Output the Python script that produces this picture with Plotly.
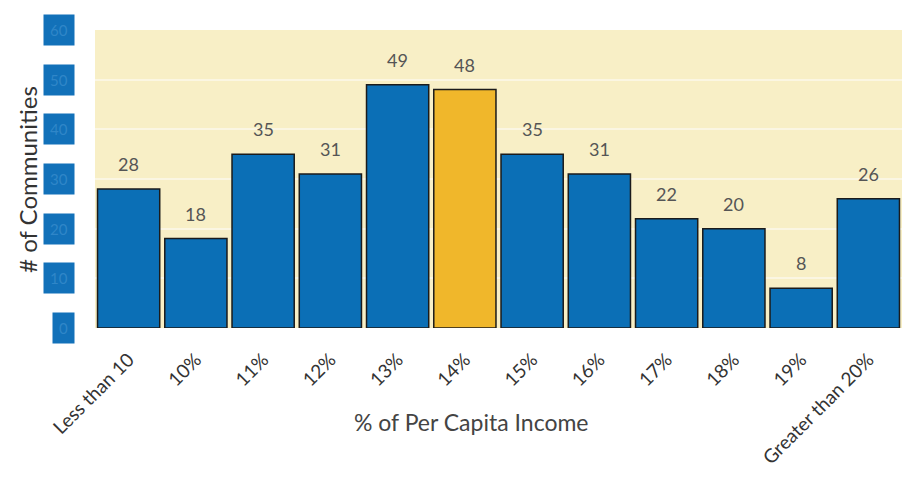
import plotly.graph_objects as go

categories = ["Less than 10", "10%", "11%", "12%", "13%", "14%", "15%", "16%", "17%", "18%", "19%", "Greater than 20%"]
values = [28, 18, 35, 31, 49, 48, 35, 31, 22, 20, 8, 26]
highlight = "14%"
y_ticks = [0, 10, 20, 30, 40, 50, 60]

BLUE = "#0b6fb6"
GOLD = "#f0b72b"
FONT = "Lato, sans-serif"
colors = [GOLD if c == highlight else BLUE for c in categories]

fig = go.Figure()
fig.add_trace(go.Bar(
    x=categories, y=values,
    marker=dict(color=colors, line=dict(color="#1b1b1b", width=1.5)),
    hoverinfo="skip",
))

annotations = []
for c, v in zip(categories, values):
    annotations.append(dict(
        x=c, y=v, xref="x", yref="y", text=str(v), showarrow=False,
        yanchor="bottom", yshift=12,
        font=dict(family=FONT, size=18, color="#555555"),
    ))
for t in y_ticks:
    annotations.append(dict(
        x=0, y=t, xref="paper", yref="y", text=str(t), showarrow=False,
        xanchor="right", xshift=-20,
        font=dict(family=FONT, size=15, color="#2f86c8"),
        bgcolor="#1271b9", borderpad=6,
    ))
annotations.append(dict(
    x=0.467, y=-0.315, xref="paper", yref="paper", text="% of Per Capita Income",
    showarrow=False, xanchor="center", yanchor="middle",
    font=dict(family=FONT, size=23, color="#444444"),
))
annotations.append(dict(
    x=-0.083, y=0.497, xref="paper", yref="paper", text="# of Communities",
    showarrow=False, xanchor="center", yanchor="middle", textangle=-90,
    font=dict(family=FONT, size=24, color="#333333"),
))

fig.update_layout(
    width=913, height=487,
    margin=dict(l=95, r=11, t=30, b=159),
    paper_bgcolor="white",
    plot_bgcolor="#f8efc6",
    bargap=0.075,
    showlegend=False,
    annotations=annotations,
    font=dict(family=FONT, color="#444444"),
    xaxis=dict(
        tickangle=-45,
        tickfont=dict(family=FONT, size=19, color="#333333"),
        ticklabelstandoff=16,
        showgrid=False, zeroline=False, showline=False,
    ),
    yaxis=dict(
        range=[0, 60],
        tickvals=y_ticks, showticklabels=False,
        gridcolor="#fbf6e2", gridwidth=2, zeroline=False, showline=False,
    ),
)

fig.write_html("out.html")
